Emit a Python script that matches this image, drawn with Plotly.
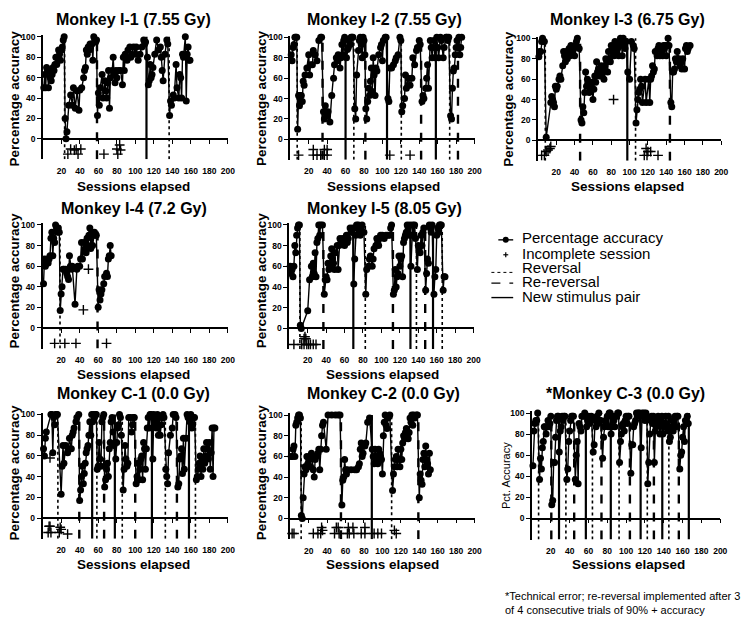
import plotly.graph_objects as go

W, H = 754, 622
FONT = "Liberation Sans, Arial, sans-serif"

# ---------------- DATA ----------------
i1_session = [1,2,3,4,5,6,7,8,9,10,11,12,13,14,15,16,17,18,19,20,21,22,23,
              24,25,26,28,30,32,33,35,37,39,40,42,44,45,46,47,48,49,50,51,53,54,55,56,57,58,
              59,60,61,62,64,65,67,68,69,70,71,72,73,75,76,77,78,79,80,82,84,86,87,88,89,91,92,94,95,96,98,100,101,103,105,107,109,110,111,
              113,114,115,116,117,118,119,121,123,125,127,128,129,130,132,134,135,
              137,138,139,141,142,144,145,147,148,149,150,151,152,154,155,156,157,158,159]
i1_accuracy = [50,63,50,70,67,50,67,60,57,63,70,67,73,80,73,80,87,83,77,87,90,97,100,
               20,0,7,33,43,33,50,30,47,28,48,50,60,67,70,87,83,90,87,93,93,77,100,97,95,97,
               23,45,33,50,63,40,57,47,40,55,67,30,60,67,80,63,55,67,60,67,67,53,80,67,83,77,87,90,80,83,90,83,90,77,83,90,97,93,95,
               80,53,57,73,60,63,70,83,97,87,90,80,67,57,83,97,93,
               23,37,33,43,40,73,50,40,63,60,40,83,80,100,37,83,90,77,77]
i1_incomplete_session = [27,30,34,36,38,41,66,80,81,83,84]
i1_incomplete_y = [-15,-10,-11,-10,-15,-10,-15,-10,-15,-6,-11]
i1_reversal = [23.5, 136.5]
i1_rereversal = [58.5]
i1_newpair = [112]

i2_session = [1,2,3,4,5,6,7,
              8,9,10,11,12,13,14,15,16,18,20,21,22,24,25,27,29,31,33,34,
              36,37,38,40,41,43,45,47,48,50,51,52,54,55,56,57,58,59,
              61,62,63,64,65,66,67,68,
              70,71,72,74,75,76,77,78,79,80,81,
              82,83,84,85,86,87,88,89,90,91,92,93,94,96,98,99,100,101,103,104,
              106,107,108,110,112,114,115,117,119,120,
              121,122,124,125,126,128,130,132,133,135,137,138,140,141,
              143,144,145,147,148,149,150,152,153,154,155,156,157,
              159,160,161,163,164,166,167,169,170,171,172,
              174,175,176,177,178,179,180,181,
              183,184,185,186]
i2_accuracy = [83,77,90,93,100,100,100,
               10,43,33,43,43,37,57,53,63,70,83,63,73,73,87,83,77,97,100,100,
               27,20,33,23,27,17,43,60,73,80,77,83,70,80,93,83,97,100,
               80,88,90,97,93,100,100,100,
               30,20,63,87,97,100,93,80,100,97,83,
               30,20,37,50,43,57,70,47,80,63,43,70,67,83,90,93,77,97,100,100,
               40,37,70,70,73,77,80,83,100,97,
               27,33,40,63,50,60,53,60,80,73,87,90,97,93,
               37,43,40,50,60,73,50,97,90,80,90,97,80,
               100,90,80,100,97,80,90,100,100,97,100,
               23,20,50,67,70,83,90,97,
               100,83,90,100]
i2_incomplete_session = [9,25,25,29,33,37,37,40,40,108,130]
i2_incomplete_y = [-15.5,-10,-15.5,-15.5,-15.5,-10,-15.5,-10,-15.5,-15.5,-15.5]
i2_reversal = [7.5, 69, 120.5, 173]
i2_rereversal = [35, 81.5, 142, 182]
i2_newpair = [60, 105, 158]

i3_session = [1,2,3,4,5,6,7,
              9,14,15,16,17,18,19,20,21,23,24,25,27,28,29,30,31,32,34,35,36,38,39,40,41,42,43,45,
              47,48,49,50,51,52,53,54,55,56,57,58,59,60,61,62,63,64,65,66,67,68,69,70,71,72,
              73,74,75,76,77,78,79,80,81,82,83,84,85,86,87,88,89,90,91,92,93,94,95,96,
              98,100,102,104,105,
              107,108,109,110,111,112,113,114,117,118,121,122,123,124,125,126,127,128,130,131,132,133,134,135,136,137,138,139,140,141,142,143,
              145,146,147,148,149,150,151,152,154,155,156,157,158,160,161,162,163,164,166]
i3_accuracy = [82,87,87,97,100,97,97,
               3,37,43,40,37,33,53,50,53,60,63,60,73,87,83,77,87,80,90,83,93,87,90,83,93,97,100,90,
               20,17,33,27,47,67,53,60,57,47,50,53,57,40,50,63,57,77,67,70,63,67,73,63,70,60,
               73,80,77,67,87,80,77,93,90,87,83,97,93,87,90,83,93,100,97,83,100,93,90,97,
               67,60,97,93,90,
               17,30,40,47,50,60,53,37,60,37,60,37,60,63,73,67,70,87,83,90,93,83,90,87,83,93,90,93,83,93,100,93,
               37,33,67,67,70,80,77,87,80,73,77,70,80,70,90,93,87,90,93]
i3_incomplete_session = [4,7,9,11,13,14,82.5,116,118,119,120,123,131]
i3_incomplete_y = [-14.7,-14.7,-11,-9.5,-8,-6,40,-14.7,-8,-14.7,-11,-11,-14.7]
i3_reversal = [8, 106.5]
i3_rereversal = [46, 144]
i3_newpair = [97.5]

i4_session = [1,2,3,4,5,6,7,8,9,10,11,12,13,14,15,16,17,18,
              19,20,21,22,23,25,26,27,28,29,30,31,32,35,37,38,40,41,42,43,45,46,47,48,49,50,51,52,53,54,55,56,57,58,
              60,61,62,63,64,66,67,69,70,71,72,73,74]
i4_accuracy = [43,67,60,63,67,63,67,70,87,93,70,87,83,100,97,93,97,93,
               17,33,40,57,57,57,53,50,47,70,60,57,60,23,57,60,60,67,83,67,83,77,73,87,80,90,97,77,93,80,90,93,90,90,
               20,37,27,33,37,43,50,53,50,67,70,80,70]
i4_incomplete_session = [13,24,36,44,49.5,69]
i4_incomplete_y = [-15,-15,-15,17.5,57,-15]
i4_reversal = [18.8]
i4_rereversal = [59.3]
i4_newpair = []

i5_session = [1,2,3,4,5,6,7,8,9,10,11,
              12,13,20,22,24,25,26,27,28,29,30,31,32,33,34,36,
              38,39,40,41,42,43,44,45,46,47,48,49,50,52,53,54,55,56,57,58,60,62,63,64,66,67,68,69,
              70,71,72,73,74,75,76,77,78,79,81,
              83,84,86,87,88,90,91,92,94,95,96,97,98,99,101,103,105,107,109,110,111,
              113,114,115,116,117,118,119,120,121,122,123,124,125,126,127,128,129,130,131,
              132,133,134,135,136,137,
              139,140,141,142,143,144,145,146,
              148,149,150,151,152,153,154,155,
              157,158,159,160,161,162,163,164,165,
              167,168,169]
i5_accuracy = [60,53,57,50,60,80,73,90,97,100,100,
               3,0,17,47,60,50,63,53,73,50,83,87,100,90,100,100,
               33,47,50,47,63,57,60,70,77,67,63,57,73,80,57,80,87,83,83,87,80,90,83,87,97,93,93,97,
               43,67,90,100,97,100,93,90,97,100,93,
               33,57,60,67,70,60,67,77,80,87,83,80,87,90,90,87,90,90,90,97,100,
               33,37,57,40,50,53,70,60,67,70,50,83,87,90,93,100,97,90,100,
               60,90,100,90,100,87,
               57,80,77,73,90,80,93,97,
               37,53,67,63,100,97,93,100,
               33,50,57,90,97,93,100,100,100,
               37,50,50]
i5_incomplete_session = [5,13.5,16,17,18,16,19,21,23,26,29]
i5_incomplete_y = [-15.5,-15.5,-10,-8,-10,-15.5,-15.5,-15.5,-15.5,-15.5,-15.5]
i5_reversal = [11.5, 82.5, 138, 166]
i5_rereversal = [37, 112.5, 147.5]
i5_newpair = [69.5, 131.5, 156]

c1_session = [1,2,3,4,9,10,11,12,13,14,15,16,
              20,21,22,23,25,27,28,29,31,32,33,34,36,37,39,
              40,41,42,43,44,45,46,47,48,49,50,51,52,53,
              54,55,56,57,58,
              59,60,61,62,63,64,65,66,
              67,68,69,70,71,72,73,74,75,76,77,
              79,80,81,82,83,84,85,
              87,88,89,90,91,92,93,95,96,97,98,99,
              101,102,103,104,105,106,107,108,109,110,111,112,113,114,115,116,117,
              119,120,121,122,123,124,125,126,127,128,129,130,131,
              133,134,135,136,138,140,141,143,144,
              146,147,148,149,150,151,152,153,155,156,157,
              159,160,161,162,163,164,
              166,167,168,169,170,171,172,173,174,175,176,177,178,179,180,181,182,183,184,185,186]
c1_accuracy = [67,60,77,83,100,100,63,97,90,100,100,100,
               23,50,70,53,70,63,67,77,67,80,83,87,93,97,100,
               17,27,40,50,33,43,53,63,67,70,80,93,80,100,
               93,100,97,100,100,
               47,50,73,57,50,93,97,100,
               30,37,47,53,40,67,73,93,97,83,70,
               57,73,87,90,100,97,80,
               27,47,70,57,50,53,97,97,83,90,97,97,
               33,40,53,37,47,57,60,37,73,67,47,67,87,97,87,100,100,
               57,100,90,97,87,100,80,97,80,90,97,100,97,
               47,40,33,63,80,87,100,100,97,
               30,33,57,60,67,43,77,47,77,100,97,
               93,100,87,90,97,97,
               37,40,47,53,60,40,57,47,67,53,60,73,67,57,73,47,63,87,40,87,87]
c1_incomplete_session = [6,7,8,9,18,19,20,27,8]
c1_incomplete_y = [-14,-8,-8,-14,-14,-9,-11,-15.5,58]
c1_reversal = [16.5, 58.6, 86, 132.5, 165]
c1_rereversal = [39.6, 66.4, 100, 145]
c1_newpair = [53.5, 78, 118, 158]

c2_session = [1,2,3,4,5,6,7,8,9,10,11,
              12,13,14,15,16,17,18,19,20,21,22,23,25,26,27,28,30,31,32,33,34,35,36,39,41,45,49,52,54,
              56,57,58,59,60,61,62,66,70,72,74,75,76,77,78,79,81,82,84,86,
              89,90,91,92,93,94,95,96,97,98,99,100,101,102,103,104,105,106,108,
              111,112,113,114,115,116,117,118,119,120,121,122,123,124,125,126,127,128,129,130,131,132,133,134,135,137,138,
              140,141,142,143,144,145,146,147,148,149,150,151,152]
c2_accuracy = [60,60,67,70,60,90,93,97,100,100,97,
               3,0,20,43,50,47,60,53,57,60,50,63,47,40,57,60,63,67,47,67,80,90,93,67,100,100,100,100,100,
               13,37,40,57,47,43,47,47,47,47,50,53,67,73,60,63,70,73,93,97,
               67,60,53,67,60,57,53,67,63,60,57,43,80,93,100,90,87,97,100,
               27,43,50,57,60,50,67,57,50,67,57,73,80,77,83,87,80,77,83,97,93,100,90,100,97,100,100,
               20,43,37,33,57,63,50,70,57,53,43,63,47]
c2_incomplete_session = [2,4,25,30,33,34,35,48,50,52,53,62,63,64,68,69,77,81,81,91,95,99,113,115]
c2_incomplete_y = [-14.5,-14.5,-14.5,-14.5,-14.5,-8.7,-11.5,-14.5,-8.7,-8.7,-14.5,-14.5,-8.7,-14.5,
                   -8.7,-14.5,-14.5,-8.7,-14.5,-14.5,-14.5,-14.5,-11.5,-14.5]
c2_reversal = [11.8, 110]
c2_rereversal = [55, 139]
c2_newpair = [88.5]

c3_session = [1,2,3,4,5,6,
              8,9,10,11,12,13,14,15,16,17,18,19,20,
              21,22,23,24,25,26,27,28,
              29,30,31,32,33,34,35,
              37,38,39,40,41,42,43,44,
              46,47,48,49,50,51,52,53,55,56,
              58,59,60,61,62,63,
              65,66,67,68,69,70,71,72,73,
              75,76,77,78,79,80,81,82,83,
              84,85,86,87,88,89,90,91,92,
              93,94,95,96,97,98,99,100,101,102,103,
              105,106,107,108,109,110,111,112,113,114,
              116,117,118,119,120,121,122,
              123,124,125,126,127,128,129,
              130,131,132,133,134,135,136,137,138,
              139,140,141,142,143,144,145,
              146,147,148,149,150,151,152,153,154,155,
              157,158,159,160,161,162,163,164,165,166]
c3_accuracy = [50,83,90,93,93,100,
               37,57,47,67,73,87,87,80,87,93,87,90,97,
               13,17,53,53,77,93,97,97,
               63,83,87,97,93,97,97,
               37,47,73,83,93,97,97,97,
               37,60,73,33,90,87,83,97,97,100,
               87,93,97,90,93,97,
               63,70,93,87,97,90,100,93,93,
               57,77,87,93,90,97,87,100,100,
               80,87,97,93,87,97,97,100,100,
               53,73,80,87,90,83,93,97,90,97,97,
               43,70,70,87,90,93,100,97,100,100,
               67,100,97,100,93,100,97,
               33,53,80,93,97,90,97,
               53,83,87,93,97,90,80,93,97,
               80,87,90,97,90,83,97,
               73,77,87,93,83,90,97,87,97,97,
               47,60,63,77,87,73,93,90,97,90]
c3_incomplete_session = []
c3_incomplete_y = []
c3_reversal = [7, 36, 64.2, 92.5, 122.5, 145.4]
c3_rereversal = [20.5, 44.8, 73.8, 104, 129.5, 156]
c3_newpair = [28.7, 57.2, 83.7, 115.4, 138.4, 166.6]

x_ticks = [20, 40, 60, 80, 100, 120, 140, 160, 180, 200]
y_ticks = [0, 20, 40, 60, 80, 100]

panels = [
    ("Monkey I-1 (7.55 Gy)", i1_session, i1_accuracy, i1_incomplete_session, i1_incomplete_y, i1_reversal, i1_rereversal, i1_newpair,
     (43.3, 230, 136.5, 34), "Percentage accuracy"),
    ("Monkey I-2 (7.55 Gy)", i2_session, i2_accuracy, i2_incomplete_session, i2_incomplete_y, i2_reversal, i2_rereversal, i2_newpair,
     (293, 479, 137, 34.5), "Percentage accuracy"),
    ("Monkey I-3 (6.75 Gy)", i3_session, i3_accuracy, i3_incomplete_session, i3_incomplete_y, i3_reversal, i3_rereversal, i3_newpair,
     (543, 728, 138, 35.5), "Percentage accuracy"),
    ("Monkey I-4 (7.2 Gy)", i4_session, i4_accuracy, i4_incomplete_session, i4_incomplete_y, i4_reversal, i4_rereversal, i4_newpair,
     (43, 230, 326.5, 223), "Percentage accuracy"),
    ("Monkey I-5 (8.05 Gy)", i5_session, i5_accuracy, i5_incomplete_session, i5_incomplete_y, i5_reversal, i5_rereversal, i5_newpair,
     (292, 478, 327, 223), "Percentage accuracy"),
    ("Monkey C-1 (0.0 Gy)", c1_session, c1_accuracy, c1_incomplete_session, c1_incomplete_y, c1_reversal, c1_rereversal, c1_newpair,
     (43, 230, 517.5, 413.5), "Percentage accuracy"),
    ("Monkey C-2 (0.0 Gy)", c2_session, c2_accuracy, c2_incomplete_session, c2_incomplete_y, c2_reversal, c2_rereversal, c2_newpair,
     (293, 479, 518, 414), "Percentage accuracy"),
    ("*Monkey C-3 (0.0 Gy)", c3_session, c3_accuracy, c3_incomplete_session, c3_incomplete_y, c3_reversal, c3_rereversal, c3_newpair,
     (537, 727, 518, 412), "Pct. Accuracy"),
]

for p in panels:
    assert len(p[1]) == len(p[2]), p[0]
    assert len(p[3]) == len(p[4]), p[0]

# placement of titles (pixel centres)
title_pos = [(135, 17), (388, 17), (633, 17), (135, 206), (388, 206), (135, 392), (387, 392), (631, 392)]
ytitle_pos = [(15, 96), (264, 96), (513, 96), (15, 279), (264, 279), (15, 472), (264, 472), (510, 475)]
xtitle_pos = [(135, 184), (387, 184), (633, 184), (135, 373), (386, 373), (135, 564), (386, 564), (634, 564)]

def px(x):
    return x / W

def py(y):
    return 1 - y / H

YMIN, YMAX = -20, 101.5

fig = go.Figure()
layout = {}
annotations = []
shapes = []

for k, (title, ses, acc, inc_s, inc_y, rev, rerev, newp, geom, ytitle) in enumerate(panels, start=1):
    x0, x200, yzero, y100 = geom
    ky = (yzero - y100) / 100.0
    bottom = yzero - YMIN * ky
    top = y100 - (YMAX - 100) * ky
    xname = "x" if k == 1 else f"x{k}"
    yname = "y" if k == 1 else f"y{k}"
    xkey = "xaxis" if k == 1 else f"xaxis{k}"
    ykey = "yaxis" if k == 1 else f"yaxis{k}"

    layout[xkey] = dict(
        domain=[px(x0), px(x200)], range=[0, 200], anchor="free", position=py(yzero),
        showline=True, linecolor="black", linewidth=1.6, ticks="outside", ticklen=4, tickwidth=1.4,
        tickcolor="black", tickvals=x_ticks, ticklabelstandoff=20, showgrid=False, zeroline=False,
        tickfont=dict(family=FONT, size=8.5, color="black", weight="bold"),
    )
    layout[ykey] = dict(
        domain=[py(bottom), py(top)], range=[YMIN, YMAX], anchor=xname,
        showline=True, linecolor="black", linewidth=1.6, ticks="outside", ticklen=4, tickwidth=1.4,
        tickcolor="black", tickvals=y_ticks, showgrid=False, zeroline=False,
        tickfont=dict(family=FONT, size=8.5, color="black", weight="bold"),
    )

    def vlines(vals):
        xs, ys = [], []
        for v in vals:
            xs += [v, v, None]
            ys += [YMIN, 100, None]
        return xs, ys

    for vals, dash, wdt in ((rev, "dot", 1.6), (rerev, "dash", 2.4), (newp, "solid", 2.2)):
        if vals:
            xs, ys = vlines(vals)
            fig.add_trace(go.Scatter(x=xs, y=ys, mode="lines", xaxis=xname, yaxis=yname,
                                     line=dict(color="black", width=wdt, dash=dash),
                                     hoverinfo="skip", showlegend=False))

    fig.add_trace(go.Scatter(x=ses, y=acc, mode="lines+markers", xaxis=xname, yaxis=yname,
                             line=dict(color="black", width=1.4),
                             marker=dict(color="black", size=7, symbol="circle"),
                             cliponaxis=False, showlegend=False))
    if inc_s:
        fig.add_trace(go.Scatter(x=inc_s, y=inc_y, mode="markers", xaxis=xname, yaxis=yname,
                                 marker=dict(symbol="cross-thin", size=7, line=dict(color="black", width=1.4)),
                                 cliponaxis=False, showlegend=False))

    tx, ty = title_pos[k - 1]
    annotations.append(dict(text=f"<b>{title}</b>", x=px(tx), y=py(ty), xref="paper", yref="paper",
                            xanchor="center", yanchor="middle", showarrow=False,
                            font=dict(family=FONT, size=16, color="black")))
    yx, yy = ytitle_pos[k - 1]
    if ytitle == "Pct. Accuracy":
        annotations.append(dict(text=ytitle, x=px(yx), y=py(yy), xref="paper", yref="paper",
                                xanchor="center", yanchor="middle", showarrow=False, textangle=-90,
                                font=dict(family=FONT, size=11, color="black")))
    else:
        annotations.append(dict(text=f"<b>{ytitle}</b>", x=px(yx), y=py(yy), xref="paper", yref="paper",
                                xanchor="center", yanchor="middle", showarrow=False, textangle=-90,
                                font=dict(family=FONT, size=13.5, color="black")))
    sx, sy = xtitle_pos[k - 1]
    annotations.append(dict(text="<b>Sessions elapsed</b>", x=px(sx), y=py(sy), xref="paper", yref="paper",
                            xanchor="center", yanchor="middle", showarrow=False,
                            font=dict(family=FONT, size=13.5, color="black")))

# footnote
for txt, yy in (("*Technical error; re-reversal implemented after 3", 596),
                ("of 4 consecutive trials of 90% + accuracy", 610)):
    annotations.append(dict(text=txt, x=px(508), y=py(yy), xref="paper", yref="paper",
                            xanchor="left", yanchor="middle", showarrow=False,
                            font=dict(family=FONT, size=11, color="black")))

# legend (manual)
legend_items = ["Percentage accuracy", "Incomplete session", "Reversal", "Re-reversal", "New stimulus pair"]
legend_y = [236, 251.5, 265.5, 280, 295]
for txt, yy in zip(legend_items, legend_y):
    annotations.append(dict(text=txt, x=px(525), y=py(yy), xref="paper", yref="paper",
                            xanchor="left", yanchor="middle", showarrow=False,
                            font=dict(family=FONT, size=15, color="black")))

def pline(xa, ya, xb, yb, width=1.5, dash="solid"):
    return dict(type="line", xref="paper", yref="paper", x0=px(xa), y0=py(ya), x1=px(xb), y1=py(yb),
                line=dict(color="black", width=width, dash=dash))

shapes.append(pline(503, 238, 518, 238, 1.4))
shapes.append(dict(type="circle", xref="paper", yref="paper", x0=px(507.5), x1=px(513.5), y0=py(235), y1=py(241),
                   fillcolor="black", line=dict(color="black", width=0)))
shapes.append(pline(508, 253, 513, 253, 1.2))
shapes.append(pline(510.5, 250.5, 510.5, 255.5, 1.2))
shapes.append(pline(496, 270.7, 518, 270.7, 1.0, "dot"))
shapes.append(pline(496, 281.5, 518, 281.5, 1.3, "dash"))
shapes.append(pline(496, 296, 518, 296, 1.4))

fig.update_layout(
    width=W, height=H, margin=dict(l=0, r=0, t=0, b=0),
    paper_bgcolor="white", plot_bgcolor="white", showlegend=False,
    annotations=annotations, shapes=shapes,
    font=dict(family=FONT, color="black"),
    **layout,
)

fig.write_html("out.html", config={"displayModeBar": False},
               post_script="document.body.style.margin='0';")
